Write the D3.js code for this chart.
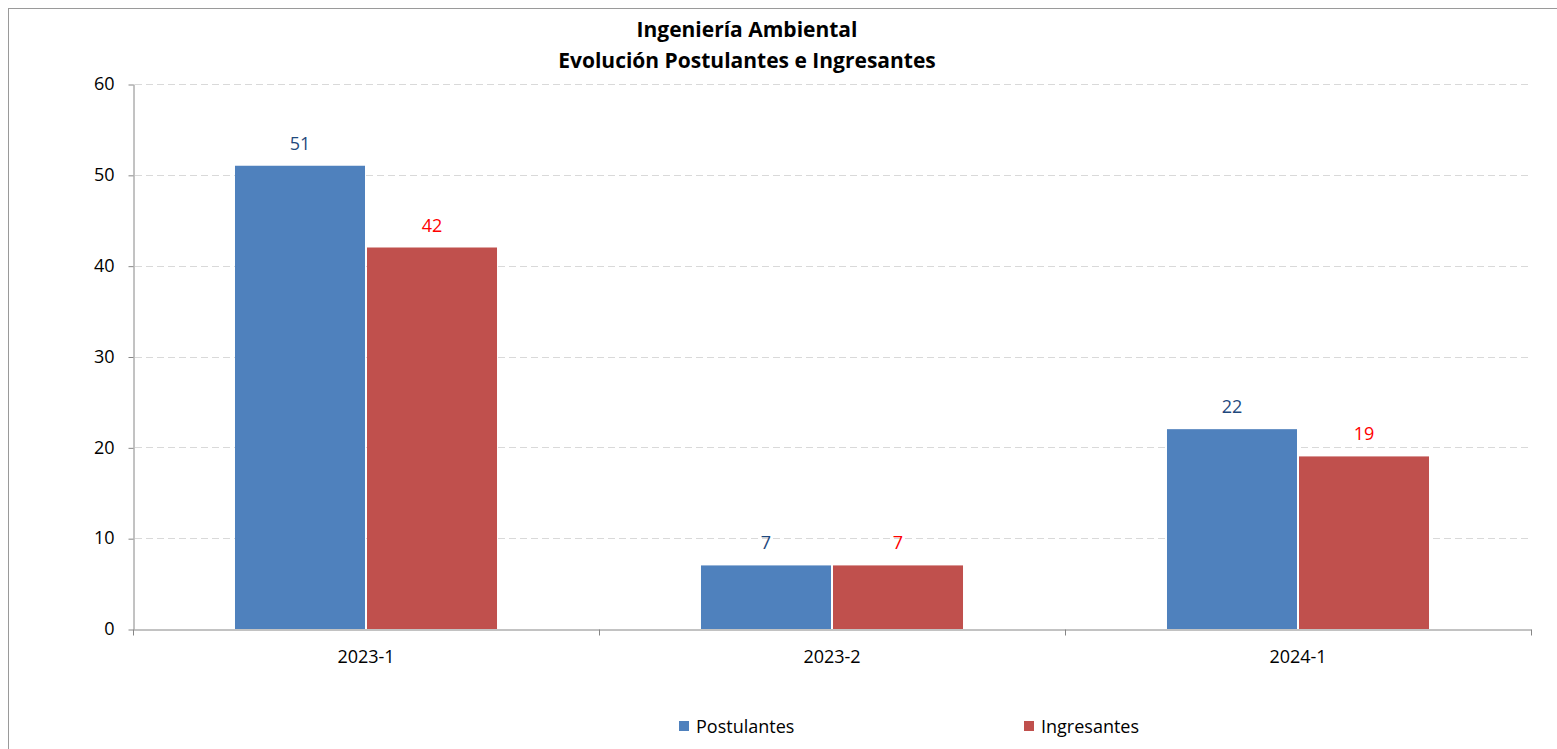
<!DOCTYPE html>
<html>
<head>
<meta charset="utf-8">
<script src="https://cdn.jsdelivr.net/npm/d3@7"></script>
<style>
  body { margin: 0; background: #fff; }
  svg, svg text { font-family: "Open Sans", Lato, sans-serif; }
  .grid line { stroke: #d9d9d9; stroke-dasharray: 7 4; }
  .axis path, .axis line { stroke: #868686; }
  .axis text { fill: #000; font-size: 18px; }
</style>
</head>
<body>
<svg width="1557" height="749"></svg>
<script>
// datos
const periodos = ["2023-1", "2023-2", "2024-1"];
const series = ["Postulantes", "Ingresantes"];
const postulantes = [51, 7, 22];
const ingresantes = [42, 7, 19];
const yTicks = [0, 10, 20, 30, 40, 50, 60];

const colores = { Postulantes: "#4f81bd", Ingresantes: "#c0504d" };
const colorEtiqueta = { Postulantes: "#1f497d", Ingresantes: "#ff0000" };

const svg = d3.select("svg");
const margin = { left: 133, right: 1531, top: 84, bottom: 629 };

// marco exterior
svg.append("rect")
  .attr("x", 8.5).attr("y", 8.5)
  .attr("width", 1600).attr("height", 800)
  .attr("fill", "none")
  .attr("stroke", "#9a9a9a");

const datos = periodos.map((p, i) => ({
  periodo: p,
  valores: [
    { serie: "Postulantes", valor: postulantes[i] },
    { serie: "Ingresantes", valor: ingresantes[i] }
  ]
}));

const x0 = d3.scaleBand().domain(periodos).range([margin.left, margin.right]);
const x1 = d3.scaleBand().domain(series)
  .range([0, x0.bandwidth()])
  .paddingOuter(0.765);
const y = d3.scaleLinear().domain([0, 60]).range([margin.bottom, margin.top]);

// lineas de cuadricula
svg.append("g").attr("class", "grid")
  .selectAll("line")
  .data(yTicks.filter(d => d > 0))
  .join("line")
  .attr("x1", margin.left + 2)
  .attr("x2", margin.right)
  .attr("y1", d => Math.round(y(d)) + 0.5)
  .attr("y2", d => Math.round(y(d)) + 0.5);

// barras
const grupos = svg.append("g").selectAll("g")
  .data(datos)
  .join("g")
  .attr("transform", d => `translate(${x0(d.periodo)},0)`);

grupos.selectAll("rect")
  .data(d => d.valores)
  .join("rect")
  .attr("x", d => x1(d.serie) + 1)
  .attr("width", x1.bandwidth() - 2)
  .attr("y", d => y(d.valor))
  .attr("height", d => y(0) - y(d.valor))
  .attr("fill", d => colores[d.serie]);

grupos.selectAll("text")
  .data(d => d.valores)
  .join("text")
  .attr("x", d => x1(d.serie) + x1.bandwidth() / 2)
  .attr("y", d => y(d.valor) - 16)
  .attr("text-anchor", "middle")
  .attr("fill", d => colorEtiqueta[d.serie])
  .style("font-size", "18px")
  .text(d => d.valor);

// eje y
svg.append("g").attr("class", "axis")
  .attr("transform", `translate(${margin.left + 0.5},0)`)
  .call(d3.axisLeft(y).tickValues(yTicks).tickSize(5).tickPadding(14).tickSizeOuter(0))
  .call(g => g.attr("font-family", null).attr("font-size", null))
  .call(g => g.selectAll(".tick line").attr("transform", "translate(0,0.5)"));

// eje x
const ejeX = svg.append("g").attr("class", "axis")
  .attr("transform", `translate(0,${margin.bottom + 0.5})`)
  .call(d3.axisBottom(x0).tickSize(0).tickPadding(21).tickSizeOuter(0))
  .call(g => g.attr("font-family", null).attr("font-size", null));
ejeX.selectAll(".tick line").remove();
ejeX.selectAll("line.sep")
  .data([margin.left, ...periodos.map(p => x0(p) + x0.bandwidth())])
  .join("line")
  .attr("class", "sep")
  .attr("x1", d => Math.round(d) + 0.5)
  .attr("x2", d => Math.round(d) + 0.5)
  .attr("y1", 0).attr("y2", 6);

// titulo
const titulo = svg.append("text")
  .attr("text-anchor", "middle")
  .attr("font-weight", "bold")
  .style("font-size", "21px")
  .attr("fill", "#000");
titulo.append("tspan").attr("x", 747).attr("y", 37).text("Ingeniería Ambiental");
titulo.append("tspan").attr("x", 747).attr("y", 68).text("Evolución Postulantes e Ingresantes");

// leyenda
const leyendaX = [679, 1024];
const leyenda = svg.append("g").selectAll("g")
  .data(series)
  .join("g")
  .attr("transform", (d, i) => `translate(${leyendaX[i]},721)`);
leyenda.append("rect")
  .attr("width", 10).attr("height", 10)
  .attr("fill", d => colores[d]);
leyenda.append("text")
  .attr("x", 17).attr("y", 12)
  .style("font-size", "18px")
  .attr("fill", "#000")
  .text(d => d);
</script>
</body>
</html>
